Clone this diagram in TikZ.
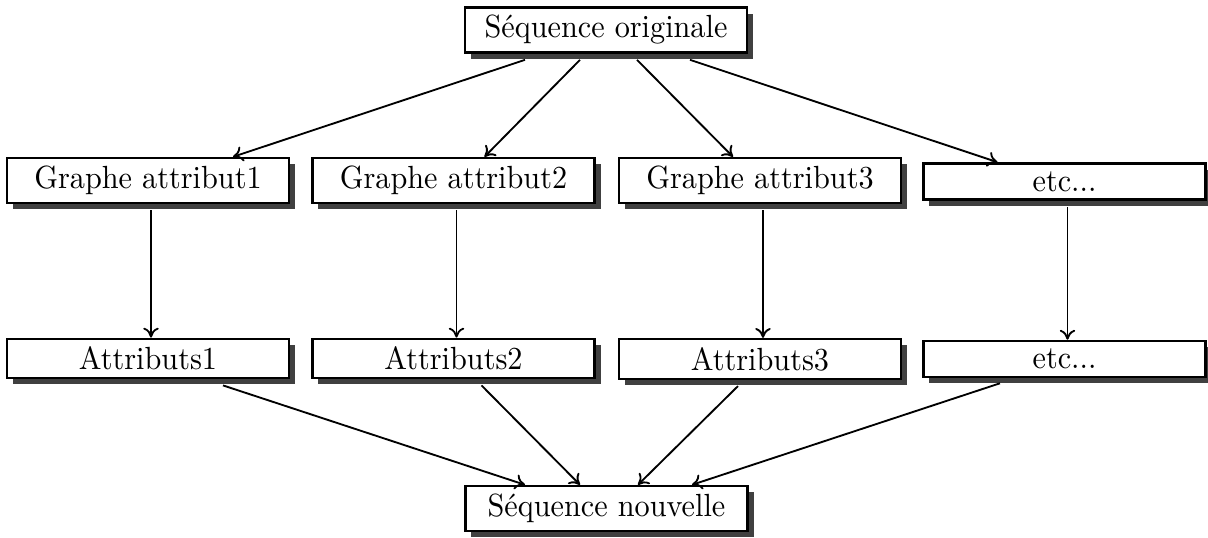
\documentclass[tikz,border=0pt]{standalone}
\usetikzlibrary{shadows,calc,arrows.meta}
\newcommand{\tall}[1]{\scalebox{1}[1.06]{#1}}
\begin{document}
\begin{tikzpicture}[x=0.324pt,y=-0.324pt,
  box/.style={draw,line width=0.8pt,fill=white,minimum width=91.5pt,
    inner xsep=3pt,inner ysep=2.6pt,font=\fontsize{9.8}{12}\selectfont,
    drop shadow={shadow xshift=2pt,shadow yshift=-2pt,fill=black!75,opacity=1}},
  link/.style={line width=0.6pt,-{To[length=3.2pt,width=5pt]}}]
\useasboundingbox (0,0) rectangle (1208,538);

% source sequence
\node[box] (top) at (606,30) {\tall{Séquence originale}};

% attribute graphs
\node[box] (g1) at (148,180.5) {\tall{Graphe attribut1}};
\node[box] (g2) at (453.5,180.5) {\tall{Graphe attribut2}};
\node[box] (g3) at (760,180.5) {\tall{Graphe attribut3}};
\node[box] (g4) at (1064.5,181.5) {\tall{etc...}};

% extracted attributes
\node[box] (a1) at (148,358.5) {\tall{Attributs1}};
\node[box] (a2) at (453.5,358.5) {\tall{Attributs2}};
\node[box] (a3) at (760,359) {\tall{Attributs3}};
\node[box] (a4) at (1064.5,359) {\tall{etc...}};

% resulting sequence
\node[box] (bot) at (606.5,508.5) {\tall{Séquence nouvelle}};

% fan-out
\draw[link] ($(top.south)+(-81,6)$) -- ($(g1.north)+(85,0)$);
\draw[link] ($(top.south)+(-26,6)$) -- ($(g2.north)+(31,0)$);
\draw[link] ($(top.south)+(31,6)$) -- ($(g3.north)+(-27,0)$);
\draw[link] ($(top.south)+(84,6)$) -- ($(g4.north)+(-67,0)$);

% graph to attributes
\foreach \i in {1,2,3,4}
  \draw[link] ($(g\i.south)+(3,6)$) -- ($(a\i.north)+(3,0)$);

% fan-in
\draw[link] ($(a1.south)+(75,6)$) -- ($(bot.north)+(-81.5,0)$);
\draw[link] ($(a2.south)+(28,6)$) -- ($(bot.north)+(-26.5,0)$);
\draw[link] ($(a3.south)+(-22,6)$) -- ($(bot.north)+(31.5,0)$);
\draw[link] ($(a4.south)+(-64.5,5)$) -- ($(bot.north)+(85.5,0)$);
\end{tikzpicture}
\end{document}
